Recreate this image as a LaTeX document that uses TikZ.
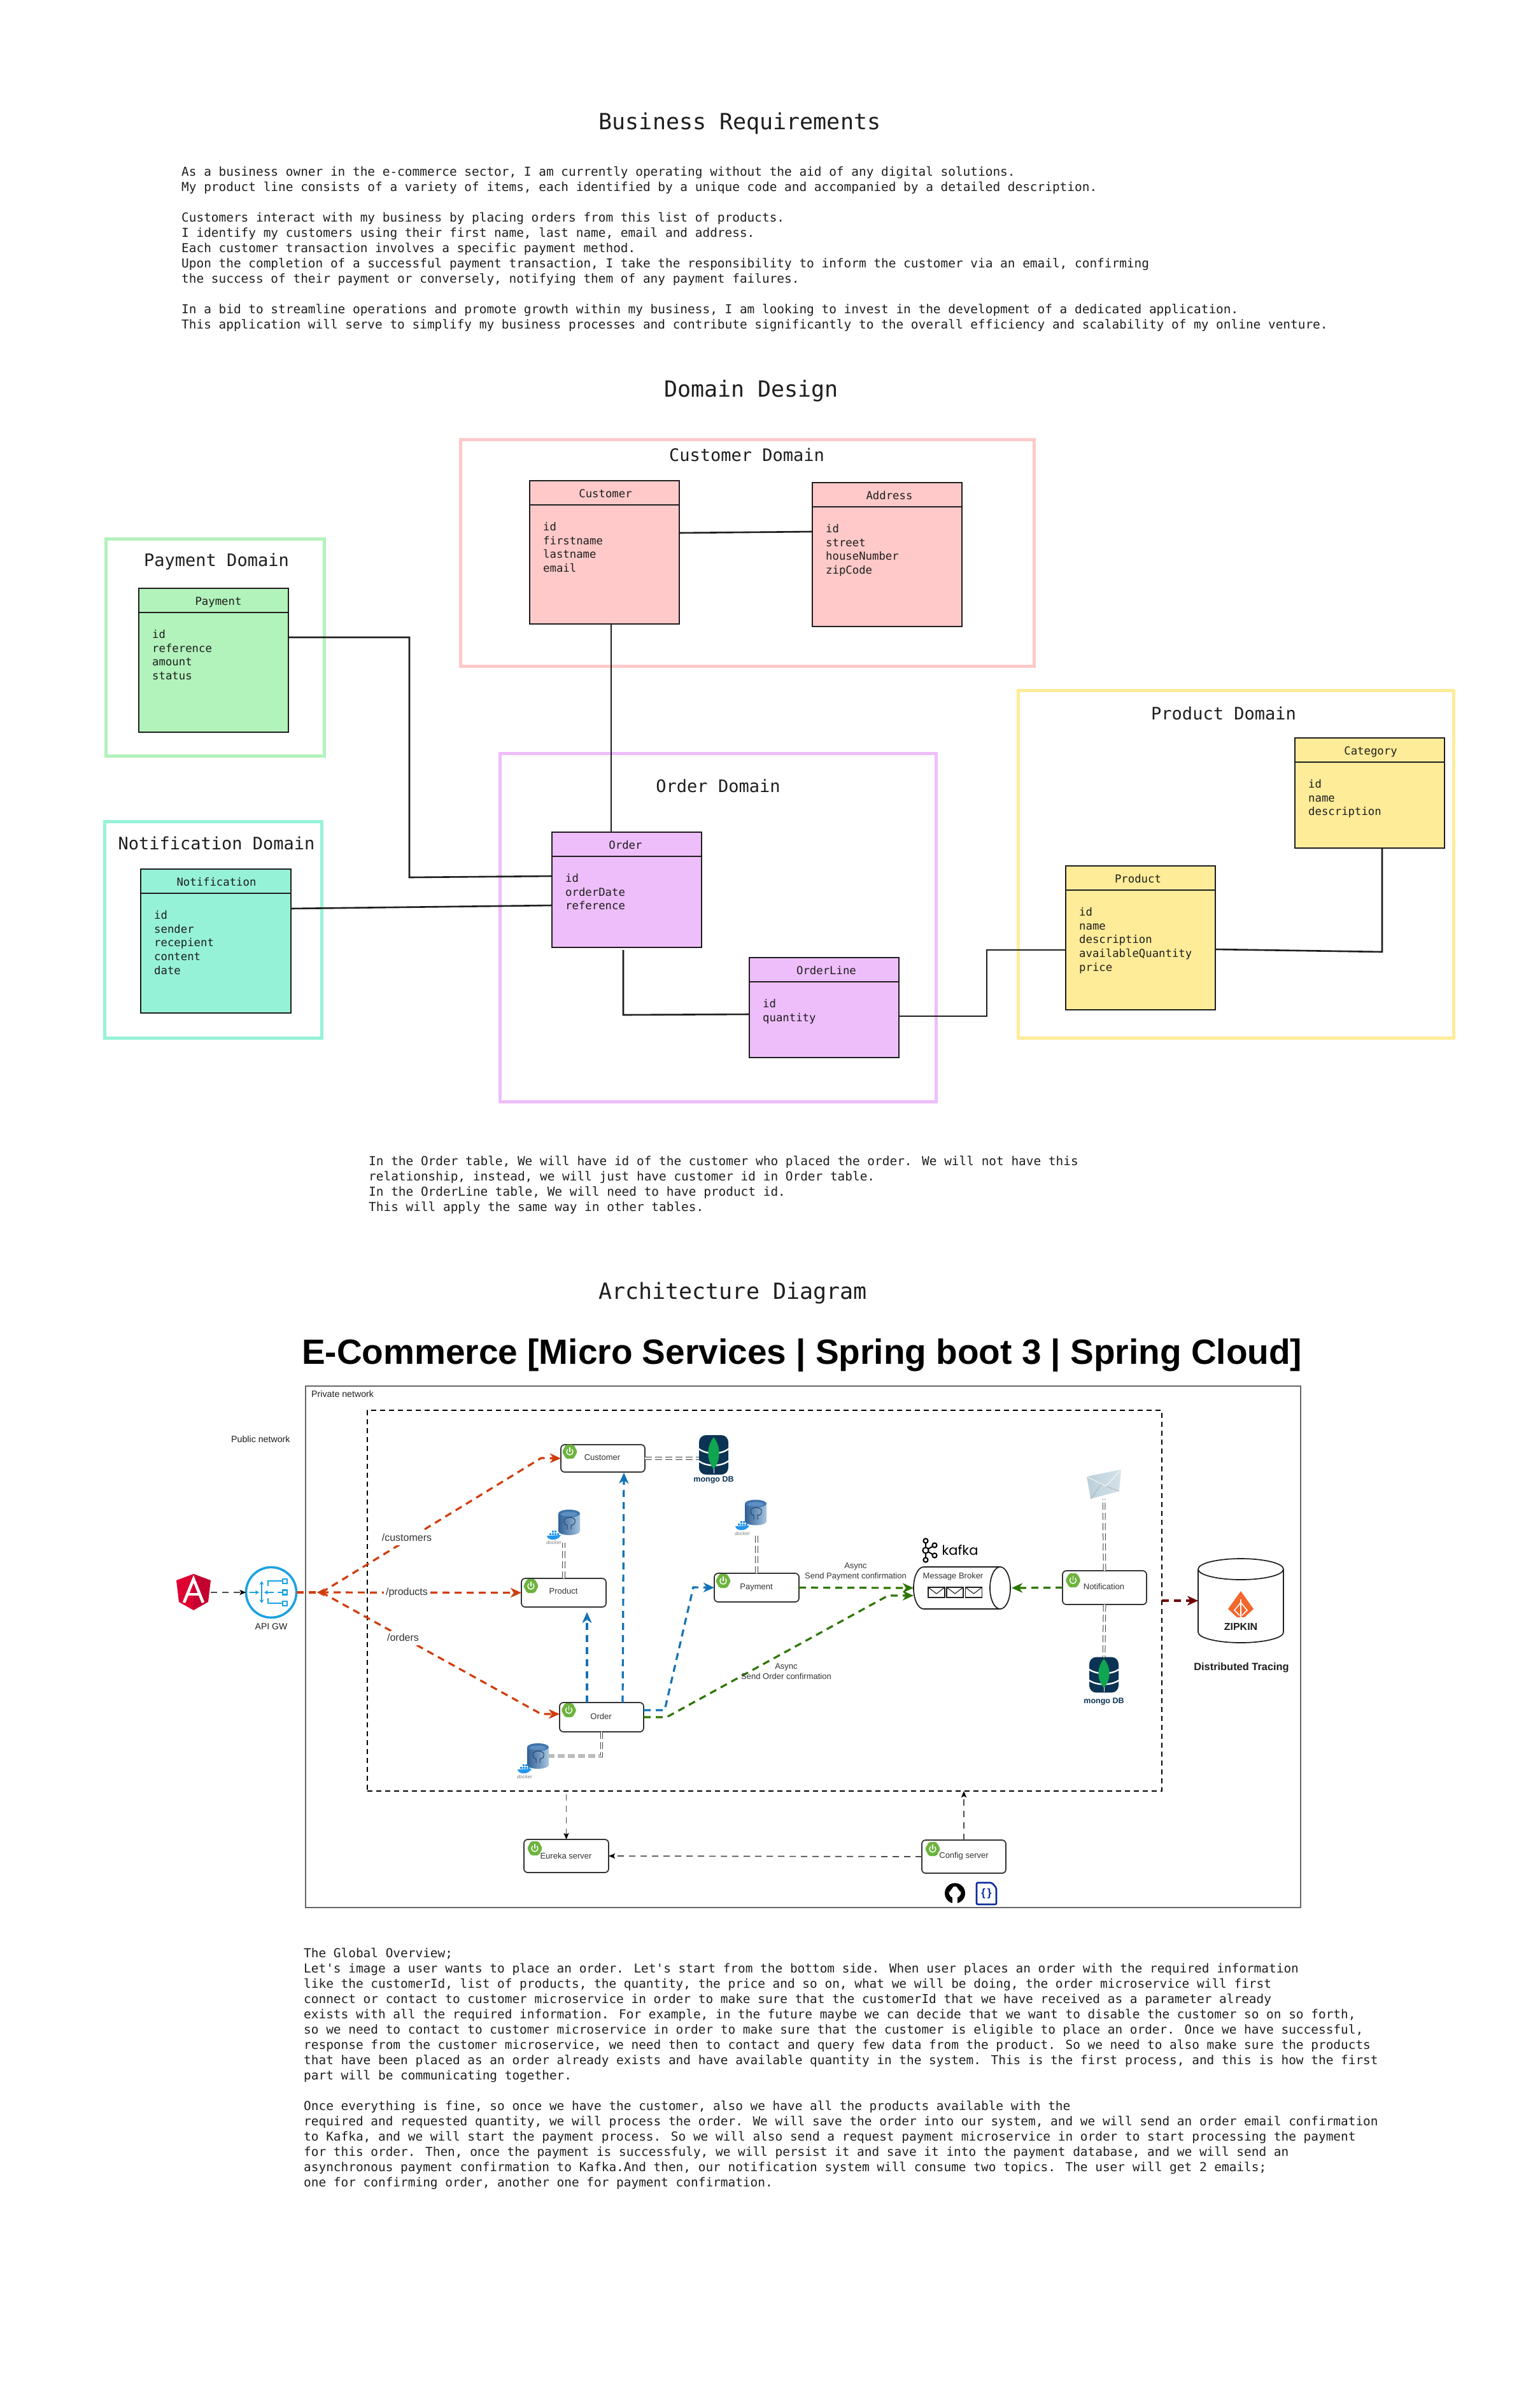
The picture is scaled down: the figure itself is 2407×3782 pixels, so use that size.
\documentclass[tikz,border=0pt]{standalone}
\usepackage{fontspec}
\setmainfont{Liberation Sans}
\newfontfamily\monof{DejaVu Sans Mono}
\newfontfamily\popf{Poppins}
\usetikzlibrary{calc,arrows.meta}
\definecolor{ink}{HTML}{1E1E1E}
\definecolor{pinkc}{HTML}{FFC9C9}
\definecolor{greenc}{HTML}{B2F2BB}
\definecolor{mintc}{HTML}{96F2D7}
\definecolor{purplec}{HTML}{EEBEFA}
\definecolor{yellowc}{HTML}{FFEC99}
\definecolor{routered}{HTML}{D13C0C}
\definecolor{callblue}{HTML}{1272B5}
\definecolor{asyncgreen}{HTML}{2D7600}
\definecolor{tracered}{HTML}{6F0000}
\definecolor{gwblue}{HTML}{1BA1E2}
\definecolor{springc}{HTML}{6DB33F}
\definecolor{mongonavy}{HTML}{0B3354}
\definecolor{mongoleaf}{HTML}{10A550}
\definecolor{lblgray}{HTML}{333333}
\definecolor{pgdark}{HTML}{2F5F94}
\definecolor{pgmid}{HTML}{5E8FC0}
\definecolor{pglight}{HTML}{A9C6E0}
\definecolor{pgtop}{HTML}{3F74AE}
\definecolor{whalec}{HTML}{2496ED}
\definecolor{angL}{HTML}{DD0031}
\definecolor{angR}{HTML}{C3002F}
\definecolor{mailL}{HTML}{BCD0DA}
\definecolor{mailR}{HTML}{D5E2E8}
\definecolor{zipc}{HTML}{F2672B}
\definecolor{docblue}{HTML}{0A2A9C}
\newcommand{\tbltab}[9]{%
  \node[tblbox,fill=#2,minimum width=#5pt,minimum height=#6pt] (#1) at (#3,#4) {};
  \draw[tblline] ($(#1.north west)+(0,38)$) -- ($(#1.north east)+(0,38)$);
  \node[tbltitle] (#1title) at ($(#1.north)+(#9,22)$) {#7};
  \node[tblfields] (#1fields) at ($(#1.north west)+(21,65)$) {#8};
}
\tikzset{
  para/.style={anchor=north west,inner sep=0pt,align=left,text=ink,font=\monof\fontsize{19.42}{24}\selectfont},
  bigtitle/.style={inner sep=0pt,text=ink,text height=27pt,text depth=7pt,font=\monof\fontsize{35}{40}\selectfont},
  domtitle/.style={inner sep=0pt,text=ink,text height=20.5pt,text depth=5.5pt,font=\monof\fontsize{27}{32}\selectfont},
  domain/.style={anchor=north west,draw=#1,line width=5pt,inner sep=0pt,outer sep=0pt},
  tblbox/.style={anchor=north west,draw=ink,line width=2.6pt,inner sep=0pt,outer sep=0pt},
  tblline/.style={draw=ink,line width=2.6pt},
  tbltitle/.style={inner sep=0pt,text=ink,text height=13pt,text depth=3.5pt,font=\monof\fontsize{17.3}{21}\selectfont},
  tblfields/.style={anchor=north west,inner sep=0pt,align=left,text=ink,font=\monof\fontsize{17.3}{21.7}\selectfont},
  rel/.style={draw=ink,line width=2.6pt},
  ghost/.style={inner sep=0pt,outer sep=0pt},
  svcbox/.style={anchor=north west,draw=lblgray,fill=white,line width=1.8pt,rounded corners=6pt,inner sep=0pt,outer sep=0pt},
  svclabel/.style={inner sep=0pt,text=lblgray,text height=9pt,text depth=3pt,font=\fontsize{13}{15}\selectfont},
  flowlabel/.style={inner sep=1pt,text=lblgray,text height=9pt,text depth=3pt,font=\fontsize{13}{15}\selectfont},
  routelabel/.style={inner sep=3pt,fill=white,text=lblgray,text height=12pt,text depth=4pt,font=\fontsize{16}{18}\selectfont},
  netlabel/.style={inner sep=0pt,text=ink,text height=9pt,text depth=3pt,font=\fontsize{14.2}{16}\selectfont},
  mongolabel/.style={inner sep=0pt,text=mongonavy,font=\bfseries\fontsize{12.5}{14}\selectfont},
  dockerlabel/.style={inner sep=0pt,text=gray,font=\itshape\fontsize{8}{9}\selectfont},
  routeline/.style={draw=routered,line width=3.2pt,dash pattern=on 11pt off 8pt},
  callline/.style={draw=callblue,line width=3.2pt,dash pattern=on 11pt off 8pt},
  asyncline/.style={draw=asyncgreen,line width=3.2pt,dash pattern=on 11pt off 8pt},
  traceline/.style={draw=tracered,line width=3.2pt,dash pattern=on 11pt off 8pt},
  bigtip/.style={-{Stealth[length=17pt,width=15pt,inset=5pt]}},
  smalltip/.style={-{Stealth[length=10pt,width=8pt,inset=2pt,black]}},
  thinline/.style={draw=black!70,line width=1.7pt,dash pattern=on 10pt off 8pt},
  dbline/.style={draw=black!75,line width=1pt,double=white,double distance=2.6pt,dash pattern=on 11pt off 5pt},
  springicon/.pic={
    \fill[springc,rounded corners=2pt] (-12,0)--(-6,-11)--(6,-11)--(12,0)--(6,11)--(-6,11)--cycle;
    \draw[white,line width=1.4pt,line cap=round] (3.5,-3.5) arc[start angle=45,end angle=-225,radius=5pt];
    \draw[white,line width=1.4pt,line cap=round] (0,-6.5)--(0,0);
  },
  mongoicon/.pic={
    \fill[mongonavy,rounded corners=11pt] (-23,-31) rectangle (23,31);
    \draw[white,line width=2.4pt] (-24,-10) .. controls (-12,0) and (12,0) .. (24,-10);
    \draw[white,line width=2.4pt] (-24,9) .. controls (-12,19) and (12,19) .. (24,9);
    \fill[mongoleaf] (0,-28) .. controls (12,-12) and (11,8) .. (0,23) .. controls (-11,8) and (-12,-12) .. (0,-28);
    \draw[white,line width=.8pt] (0,22)--(0,29);
  },
  pgicon/.pic={
    \shade[left color=pgdark,middle color=pgmid,right color=pglight]
      (-17,-14) -- (-17,14) arc[start angle=180,end angle=360,x radius=17pt,y radius=6pt] -- (17,-14) -- cycle;
    \fill[pgtop] (0,-14) circle[x radius=17pt,y radius=6pt];
    \fill[pgmid] (0,-13) circle[x radius=13pt,y radius=3.5pt];
    \draw[pgdark!70!black,line width=1pt] (-8,-4) .. controls (-6,-9) and (7,-9) .. (9,-4) .. controls (10,2) and (7,5) .. (3,4) -- (3,11) (-3,4) -- (-3,11) (-8,-4) .. controls (-8,3) and (-5,5) .. (-3,4);
  },
  whaleicon/.pic={
    \fill[whalec] (-11,0) .. controls (-10,8) and (6,9) .. (11,-1) -- cycle;
    \foreach \wx in {-7,-3,1,5}{\fill[whalec] (\wx,-4) rectangle ++(3,3);}
    \foreach \wx in {-3,1}{\fill[whalec] (\wx,-8) rectangle ++(3,3);}
  },
  envicon/.pic={
    \draw[ink,line width=1.3pt,fill=white] (-13,-8) rectangle (13,8);
    \draw[ink,line width=1.1pt] (-13,-8) -- (0,2) -- (13,-8);
  }
}
\begin{document}
\begin{tikzpicture}[x=1pt,y=-1pt]
\useasboundingbox (0,0) rectangle (2407,3782);
\fill[white] (0,0) rectangle (2407,3782);

% ---------- Business requirements
\node[bigtitle] (brtitle) at (1162,193) {Business Requirements};
\node[para] (brtext) at (285,261.5) {As a business owner in the e-commerce sector, I am currently operating without the aid of any digital solutions.\\
My product line consists of a variety of items, each identified by a unique code and accompanied by a detailed description.\\[24pt]
Customers interact with my business by placing orders from this list of products.\\
I identify my customers using their first name, last name, email and address.\\
Each customer transaction involves a specific payment method.\\
Upon the completion of a successful payment transaction, I take the responsibility to inform the customer via an email, confirming\\
the success of their payment or conversely, notifying them of any payment failures.\\[24pt]
In a bid to streamline operations and promote growth within my business, I am looking to invest in the development of a dedicated application.\\
This application will serve to simplify my business processes and contribute significantly to the overall efficiency and scalability of my online venture.};

% ---------- Domain design
\node[bigtitle] (ddtitle) at (1180,613) {Domain Design};

\node[domain=pinkc,minimum width=901pt,minimum height=356pt] (custdom) at (723,690) {};
\node[domain=greenc,minimum width=343pt,minimum height=341pt] (paydom) at (166,846) {};
\node[domain=mintc,minimum width=341pt,minimum height=340pt] (notifdom) at (164,1290) {};
\node[domain=purplec,minimum width=685pt,minimum height=547pt] (orderdom) at (785,1183) {};
\node[domain=yellowc,minimum width=684pt,minimum height=546pt] (proddom) at (1599,1084) {};

\node[domtitle] (custdomt) at (1173,717) {Customer Domain};
\node[domtitle] (paydomt) at (340,882) {Payment Domain};
\node[domtitle] (notifdomt) at (340,1327) {Notification Domain};
\node[domtitle] (orderdomt) at (1128,1237) {Order Domain};
\node[domtitle] (proddomt) at (1922,1123) {Product Domain};

\tbltab{tcust}{pinkc}{832}{755}{235}{225}{Customer}{id\\firstname\\lastname\\email}{1.5}
\tbltab{taddr}{pinkc}{1276}{758}{235}{226}{Address}{id\\street\\houseNumber\\zipCode}{3.5}
\tbltab{tpay}{greenc}{218}{924}{235}{226}{Payment}{id\\reference\\amount\\status}{7.5}
\tbltab{tnotif}{mintc}{221}{1365}{236}{226}{Notification}{id\\sender\\recepient\\content\\date}{1}
\tbltab{torder}{purplec}{867}{1307}{235}{181}{Order}{id\\orderDate\\reference}{-2}
\tbltab{tline}{purplec}{1177}{1504}{235}{157}{OrderLine}{id\\quantity}{3.5}
\tbltab{tcat}{yellowc}{2034}{1159}{235}{173}{Category}{id\\name\\description}{1.5}
\tbltab{tprod}{yellowc}{1674}{1360}{235}{226}{Product}{id\\name\\description\\availableQuantity\\price}{-4}

\draw[rel] ($(tcust.north east)+(0,82)$) -- ($(taddr.north west)+(0,77)$);
\draw[rel] ($(tcust.south west)+(128,0)$) -- ($(torder.north west)+(93,0)$);
\draw[rel] ($(tpay.north east)+(0,77)$) -- ++(190,0) -- ++(0,377) -- ($(torder.north west)+(0,69)$);
\draw[rel] ($(tnotif.north east)+(0,62)$) -- ($(torder.north west)+(0,115)$);
\draw[rel] ($(torder.south west)+(112,4)$) -- ($(torder.south west)+(112,106)$) -- ($(tline.north west)+(0,89)$);
\draw[rel] ($(tline.north east)+(0,92)$) -- ++(138,0) -- ++(0,-104) -- ($(tprod.north west)+(0,132)$);
\draw[rel] ($(tprod.north east)+(0,131)$) -- ($(tcat.south west)+(137,163)$) -- ($(tcat.south west)+(137,0)$);

\node[para] (notetext) at (579,1815.5) {In the Order table, We will have id of the customer who placed the order. We will not have this\\
relationship, instead, we will just have customer id in Order table.\\
In the OrderLine table, We will need to have product id.\\
This will apply the same way in other tables.};

% ---------- Architecture
\node[bigtitle] (archtitle) at (1151,2030) {Architecture Diagram};
\node[anchor=west,inner sep=0pt,text=black,text height=40pt,text depth=12pt,font=\bfseries\fontsize{55}{60}\selectfont] (mstitle) at (474,2128) {E-Commerce [Micro Services | Spring boot 3 | Spring Cloud]};

\node[anchor=north west,draw=black!60,line width=2.4pt,inner sep=0pt,outer sep=0pt,minimum width=1563pt,minimum height=819pt] (priv) at (480,2177) {};
\node[anchor=north west,draw=black,line width=2.6pt,dash pattern=on 8pt off 6pt,inner sep=0pt,outer sep=0pt,minimum width=1248pt,minimum height=598pt] (core) at (577,2215) {};
\node[netlabel,anchor=west] (privl) at (489,2191) {Private network};
\node[netlabel,anchor=west] (publ) at (363,2262) {Public network};

% Angular
\fill[angL] (304,2472) -- (277,2482) -- (281,2516) -- (304,2529) -- cycle;
\fill[angR] (304,2472) -- (331,2482) -- (327,2516) -- (304,2529) -- cycle;
\draw[white,line width=4.6pt] (289,2517) -- (304,2480) -- (319,2517);
\draw[white,line width=4pt] (295,2504) -- (313,2504);
\node[ghost,minimum width=54pt,minimum height=57pt] (angular) at (304,2501) {};

% API gateway
\node[circle,draw=gwblue,line width=3.6pt,inner sep=0pt,outer sep=0pt,minimum size=79pt] (apigw) at (426,2501) {};
\node[netlabel,font=\fontsize{14}{16}\selectfont] (apigwl) at (426,2556) {API GW};
\begin{scope}[gwblue,line width=2.6pt]
\draw[-{Stealth[length=6pt,width=7pt]}] (392,2501) -- (407,2501);
\draw[{Stealth[length=6pt,width=7pt]}-{Stealth[length=6pt,width=7pt]}] (411,2483) -- (411,2518);
\draw[-{Stealth[length=6pt,width=7pt]}] (430,2501) -- (415,2501);
\draw (436,2501) -- (444,2501);
\draw (444,2483) -- (421,2483) -- (421,2491);
\draw (444,2518) -- (421,2518) -- (421,2510);
\draw (444,2480) rectangle (451,2487);
\draw (444,2497.5) rectangle (451,2504.5);
\draw (444,2515) rectangle (451,2522);
\end{scope}
\draw[thinline,smalltip] (angular.east) -- (apigw.west);

% Service boxes
\node[svcbox,minimum width=132pt,minimum height=43pt] (cust) at (881,2269) {};
\node[svcbox,minimum width=133pt,minimum height=45pt] (prod) at (819,2479) {};
\node[svcbox,minimum width=132pt,minimum height=46pt] (order) at (879,2674) {};
\node[svcbox,minimum width=133pt,minimum height=45pt] (pay) at (1122,2471) {};
\node[svcbox,minimum width=132pt,minimum height=53pt] (notif) at (1669,2467) {};
\node[svcbox,minimum width=133pt,minimum height=52pt] (eureka) at (823,2889) {};
\node[svcbox,minimum width=132pt,minimum height=52pt] (config) at (1448,2890) {};

\node[svclabel] (custl) at (946,2290) {Customer};
\node[svclabel] (prodl) at (885,2500) {Product};
\node[svclabel] (orderl) at (944,2697) {Order};
\node[svclabel] (payl) at (1188,2493) {Payment};
\node[svclabel] (notifl) at (1734,2493) {Notification};
\node[svclabel] (eurekal) at (889,2916) {Eureka server};
\node[svclabel] (configl) at (1514,2915) {Config server};

\pic at (895,2280) {springicon};
\pic at (834,2491) {springicon};
\pic at (893.5,2686) {springicon};
\pic at (1136,2483) {springicon};
\pic at (1685.5,2482) {springicon};
\pic at (840,2903) {springicon};
\pic at (1465,2904) {springicon};

% Databases
\node[ghost,minimum width=46pt,minimum height=62pt] (mongoA) at (1121,2285) {};
\node[ghost,minimum width=46pt,minimum height=55pt] (mongoB) at (1734,2630.5) {};
\pic at (1121,2285) {mongoicon};
\pic[yscale=.9] at (1734,2630.5) {mongoicon};
\node[mongolabel] (mongoAl) at (1121,2324) {mongo DB};
\node[mongolabel] (mongoBl) at (1734,2672) {mongo DB};

\node[ghost,minimum width=34pt,minimum height=41pt] (pgprod) at (894,2391) {};
\node[ghost,minimum width=34pt,minimum height=41pt] (pgpay) at (1187,2375.5) {};
\node[ghost,minimum width=34pt,minimum height=41pt] (pgorder) at (845,2758) {};
\pic at (894,2391) {pgicon};
\pic at (1187,2375.5) {pgicon};
\pic at (845,2758) {pgicon};
\pic at (870,2412) {whaleicon};
\pic at (1166,2397) {whaleicon};
\pic at (824,2779) {whaleicon};
\node[dockerlabel] (dockerP) at (870,2423) {docker};
\node[dockerlabel] (dockerY) at (1166,2409) {docker};
\node[dockerlabel] (dockerO) at (824,2791) {docker};

% Envelope
\node[ghost,minimum width=54pt,minimum height=46pt] (mail) at (1734,2331) {};
\shade[left color=mailL,right color=mailR] (1707,2319) -- (1761,2308) -- (1758,2342) -- (1713,2354) -- cycle;
\draw[white,line width=.8pt] (1707,2319) -- (1737,2334) -- (1761,2308);
\draw[gray!70,line width=.6pt] (1713,2354) -- (1730,2331) (1758,2342) -- (1737,2334);

% DB connectors
\draw[dbline] (cust.east) -- (cust.east -| mongoA.west);
\draw[dbline] (prod.north) -- (prod.north |- dockerP.east);
\draw[dbline] (pay.north) -- (pay.north |- dockerY.east);
\draw[dbline] (order.south) -- (order.south |- pgorder.east) -- (pgorder.east);
\draw[dbline] (notif.north) -- (mail.south);
\draw[dbline] (notif.south) -- (mongoB.north);

% Red routes
\coordinate (hub) at (505,2501);
\coordinate (bendC) at (850,2290);
\coordinate (bendO) at (850,2692);
\draw[routeline] (apigw.east) -- (hub);
\draw[routeline,bigtip] (hub) -- (bendC) -- (cust.west);
\draw[routeline,bigtip] (hub) -- (prod.west);
\draw[routeline,bigtip] (hub) -- (bendO) -- ($(order.north west)+(0,18)$);
\draw[routeline,solid,-{Stealth[length=12pt,width=13pt,inset=4pt]}] ($(hub)+(5,0)$) -- ($(hub)+(-7,0)$);
\node[routelabel] (rc) at (639,2416) {/customers};
\node[routelabel] (rp) at (639,2501) {/products};
\node[routelabel] (ro) at (633,2573) {/orders};

% Blue calls
\coordinate (bendPa) at (1044,2686);
\coordinate (bendPb) at (1089,2493);
\draw[callline,bigtip] ($(order.north west)+(43,0)$) -- ($(prod.south west)+(103,8)$);
\draw[callline,bigtip] ($(order.north west)+(99,0)$) -- ($(cust.south west)+(99,1)$);
\draw[callline,bigtip] ($(order.north east)+(0,12)$) -- (bendPa) -- (bendPb) -- (pay.west);

% Kafka broker
\node[ghost,minimum width=152pt,minimum height=66pt] (broker) at (1511,2494) {};
\draw[ink,line width=1.7pt,fill=white] (1451,2461) arc[start angle=90,end angle=270,x radius=16pt,y radius=33pt] -- (1571,2527) -- (1571,2461) -- cycle;
\draw[ink,line width=1.7pt,fill=white] (1571,2494) circle[x radius=16pt,y radius=33pt];
\node[svclabel] (brokerl) at (1497,2476) {Message Broker};
\pic at (1471,2501) {envicon};
\pic at (1500,2501) {envicon};
\pic at (1529.5,2501) {envicon};
\draw[black,line width=2pt] (1454,2420) -- (1454,2450) (1454,2435) -- (1468,2427) (1454,2435) -- (1468,2443);
\foreach \kx/\ky/\kr in {1454/2420/3.6,1454/2435/4.6,1454/2450/3.6,1468/2427/3.6,1468/2443/3.6}{
  \draw[black,line width=2pt,fill=white] (\kx,\ky) circle[radius=\kr pt];
}
\node[inner sep=0pt,text=black,font=\popf\fontsize{21}{24}\selectfont] (kafkal) at (1508,2435) {kafka};

% Green async
\coordinate (bendGa) at (1047,2697);
\coordinate (bendGb) at (1395,2506);
\draw[asyncline,bigtip] (pay.east) -- (broker.west);
\draw[asyncline,bigtip] (order.east) -- (bendGa) -- (bendGb) -- ($(broker.west)+(0,12)$);
\draw[asyncline,bigtip] (notif.west) -- ($(broker.east)+(2,0)$);
\node[flowlabel] (asyncA) at (1344,2460) {Async};
\node[flowlabel] (asyncAb) at (1344,2476) {Send Payment confirmation};
\node[flowlabel] (asyncB) at (1235,2618) {Async};
\node[flowlabel] (asyncBb) at (1235,2634) {Send Order confirmation};

% Zipkin
\node[ghost,minimum width=134pt,minimum height=132pt] (zipkin) at (1949,2514) {};
\draw[ink,line width=1.7pt,fill=white] (1882,2464.5) -- (1882,2563.5) arc[start angle=180,end angle=360,x radius=67pt,y radius=16.5pt] -- (2016,2464.5);
\draw[ink,line width=1.7pt,fill=white] (1949,2464.5) circle[x radius=67pt,y radius=16.5pt];
\fill[zipc] (1949,2499) -- (1969,2527) -- (1955,2540) -- (1943,2540) -- (1929,2527) -- cycle;
\draw[white,line width=1.6pt] (1949,2512) -- (1949,2541) (1949,2517) -- (1939,2529) -- (1947,2537) (1949,2517) -- (1959,2529) -- (1951,2537);
\node[inner sep=0pt,text=ink,font=\bfseries\fontsize{16}{18}\selectfont] (zipl) at (1949,2555) {ZIPKIN};
\node[netlabel,font=\bfseries\fontsize{16.4}{18}\selectfont] (zipd) at (1950,2620) {Distributed Tracing};
\draw[traceline,bigtip] (core.east |- zipkin.west) -- (zipkin.west);

% Platform connectors
\draw[thinline,smalltip] (config.north) -- (config.north |- core.south);
\draw[thinline,smalltip] (config.west) -- (eureka.east);
\draw[thinline,smalltip] ($(eureka.north |- core.south)+(0,5)$) -- (eureka.north);

% GitHub icon
\fill[black] (1500,2973.5) circle[radius=16pt];
\fill[white] (1500,2972) circle[x radius=9.5pt,y radius=9pt];
\fill[white] (1496,2978) rectangle (1504,2991);
\fill[black] (1491,2962) -- (1491,2972) -- (1497,2964) -- cycle;
\fill[black] (1509,2962) -- (1509,2972) -- (1503,2964) -- cycle;

% Doc icon
\draw[docblue,line width=2.6pt,rounded corners=2pt] (1534,2957) -- (1558,2957) -- (1565,2965) -- (1565,2991) -- (1534,2991) -- cycle;
\node[inner sep=0pt,text=docblue,font=\bfseries\fontsize{17}{19}\selectfont] (docl) at (1549.5,2974) {\{\,\}};

% ---------- Global overview
\node[para] (overview) at (477,3059.5) {The Global Overview;\\
Let's image a user wants to place an order. Let's start from the bottom side. When user places an order with the required information\\
like the customerId, list of products, the quantity, the price and so on, what we will be doing, the order microservice will first\\
connect or contact to customer microservice in order to make sure that the customerId that we have received as a parameter already\\
exists with all the required information. For example, in the future maybe we can decide that we want to disable the customer so on so forth,\\
so we need to contact to customer microservice in order to make sure that the customer is eligible to place an order. Once we have successful,\\
response from the customer microservice, we need then to contact and query few data from the product. So we need to also make sure the products\\
that have been placed as an order already exists and have available quantity in the system. This is the first process, and this is how the first\\
part will be communicating together.\\[24pt]
Once everything is fine, so once we have the customer, also we have all the products available with the\\
required and requested quantity, we will process the order. We will save the order into our system, and we will send an order email confirmation\\
to Kafka, and we will start the payment process. So we will also send a request payment microservice in order to start processing the payment\\
for this order. Then, once the payment is successfuly, we will persist it and save it into the payment database, and we will send an\\
asynchronous payment confirmation to Kafka.And then, our notification system will consume two topics. The user will get 2 emails;\\
one for confirming order, another one for payment confirmation.};
\end{tikzpicture}
\end{document}
